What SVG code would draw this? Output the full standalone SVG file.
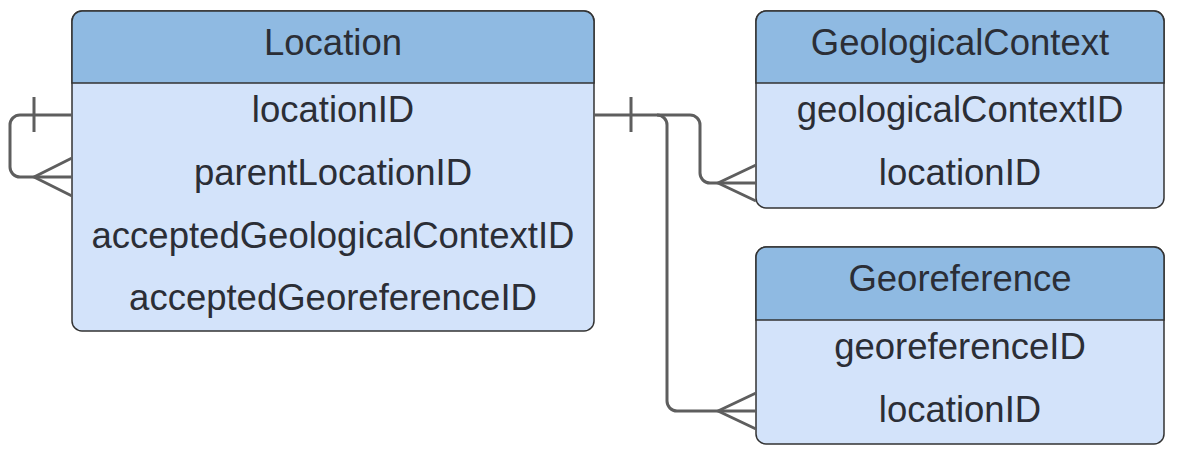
<svg xmlns="http://www.w3.org/2000/svg" width="1182" height="454" viewBox="0 0 1182 454">
<style>
.body{fill:#d3e3fa;stroke:#333;stroke-width:1.5}
.head{fill:#8fbae2;stroke:#333;stroke-width:1.5}
text{font-family:"Liberation Sans",Arial,sans-serif;font-size:36.5px;fill:#2b2e36;text-anchor:middle}
.c{fill:none;stroke:#5e5e5e;stroke-width:3;stroke-linejoin:round}
</style>
<g id="Location">
<rect class="body" x="72" y="11" width="522" height="320" rx="10"/>
<path class="head" d="M72,83 V21 a10,10 0 0 1 10,-10 H584 a10,10 0 0 1 10,10 V83 Z"/>
<text x="333" y="55">Location</text>
<text x="333" y="122">locationID</text>
<text x="333" y="185">parentLocationID</text>
<text x="333" y="248">acceptedGeologicalContextID</text>
<text x="333" y="310">acceptedGeoreferenceID</text>
</g>
<g id="GeologicalContext">
<rect class="body" x="756" y="11" width="408" height="197" rx="10"/>
<path class="head" d="M756,83 V21 a10,10 0 0 1 10,-10 H1154 a10,10 0 0 1 10,10 V83 Z"/>
<text x="960" y="55">GeologicalContext</text>
<text x="960" y="122">geologicalContextID</text>
<text x="960" y="185">locationID</text>
</g>
<g id="Georeference">
<rect class="body" x="756" y="247" width="408" height="197" rx="10"/>
<path class="head" d="M756,320 V257 a10,10 0 0 1 10,-10 H1154 a10,10 0 0 1 10,10 V320 Z"/>
<text x="960" y="291">Georeference</text>
<text x="960" y="359">georeferenceID</text>
<text x="960" y="422">locationID</text>
</g>
<g id="connectors">
<path class="c" d="M72,115 H20 a10,10 0 0 0 -10,10 V167 a10,10 0 0 0 10,10 H72"/>
<path class="c" d="M34,97 V132 M72,158 L34,177 L72,196"/>
<path class="c" d="M594,115 H690 a10,10 0 0 1 10,10 V173 a10,10 0 0 0 10,10 H756"/>
<path class="c" d="M631,97 V132 M756,165 L718,183 L756,201"/>
<path class="c" d="M657,115 a10,10 0 0 1 10,10 V401 a10,10 0 0 0 10,10 H756"/>
<path class="c" d="M756,393 L718,411 L756,429"/>
</g>
</svg>
